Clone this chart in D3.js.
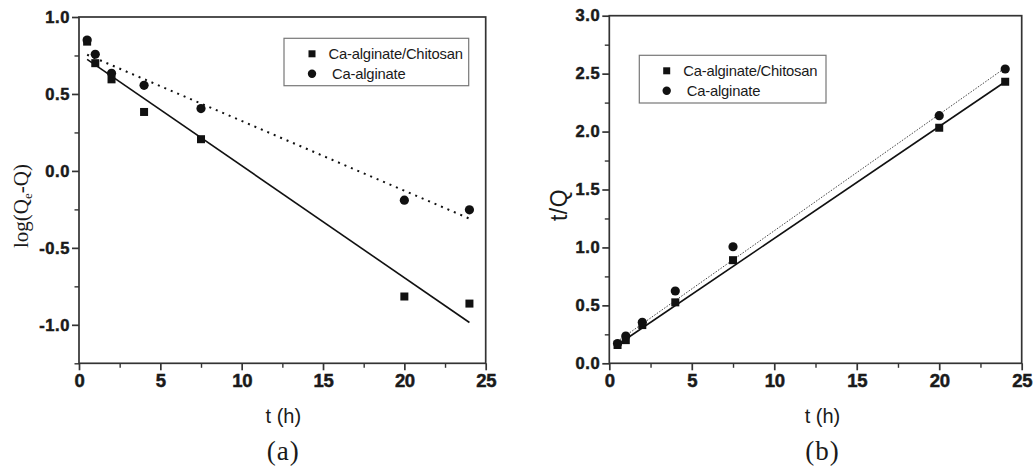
<!DOCTYPE html>
<html>
<head>
<meta charset="utf-8">
<script src="https://cdn.jsdelivr.net/npm/d3@7"></script>
<style>
  body { margin: 0; background: #fff; }
  svg { display: block; }
</style>
</head>
<body>
<div id="chart"></div>
<script>
// sampling times (h)
const times = [0.5, 1, 2, 4, 7.5, 20, 24];

// (a) pseudo-first-order: log(Qe-Q)
const logChitosan = [0.84, 0.70, 0.595, 0.383, 0.206, -0.816, -0.862];
const logAlginate = [0.85, 0.758, 0.634, 0.556, 0.405, -0.19, -0.253];
const fitLogChitosan = [[0.5, 0.725], [24, -0.985]];
const fitLogAlginate = [[0.5, 0.755], [24, -0.31]];

// (b) pseudo-second-order: t/Q
const tqChitosan = [0.158, 0.20, 0.33, 0.526, 0.89, 2.033, 2.43];
const tqAlginate = [0.17, 0.235, 0.354, 0.624, 1.006, 2.137, 2.54];
const fitTqChitosan = [[0.5, 0.16], [24, 2.43]];
const fitTqAlginate = [[0.5, 0.19], [24, 2.55]];

const seriesNames = ["Ca-alginate/Chitosan", "Ca-alginate"];
const xTicks = [0, 5, 10, 15, 20, 25];
const yTicksA = [-1.0, -0.5, 0.0, 0.5, 1.0];
const yTicksB = [0.0, 0.5, 1.0, 1.5, 2.0, 2.5, 3.0];

const SANS = "'Liberation Sans', Arial, sans-serif";
const SERIF = "'Liberation Serif', 'Times New Roman', serif";

const svg = d3.select("#chart").append("svg")
  .attr("width", 1034)
  .attr("height", 468);

const ink = "#1a1a1a";

function drawPanel(p) {
  const x = d3.scaleLinear().domain([0, 25]).range([p.left, p.right]);
  const y = d3.scaleLinear().domain(p.yDomain).range([p.bottom, p.top]);
  const g = svg.append("g");

  // frame
  g.append("rect")
    .attr("x", p.left).attr("y", p.top)
    .attr("width", p.right - p.left).attr("height", p.bottom - p.top)
    .attr("fill", "none").attr("stroke", "#333").attr("stroke-width", 1.7);

  // minor ticks
  g.append("g")
    .attr("transform", `translate(0,${p.bottom})`)
    .call(d3.axisBottom(x).tickValues(d3.range(2.5, 25, 5)).tickSize(4.5).tickFormat(""))
    .call(a => a.select(".domain").remove())
    .selectAll("line").attr("stroke", "#333").attr("stroke-width", 1.4);
  g.append("g")
    .attr("transform", `translate(${p.left},0)`)
    .call(d3.axisLeft(y).tickValues(p.yMinor).tickSize(4.5).tickFormat(""))
    .call(a => a.select(".domain").remove())
    .selectAll("line").attr("stroke", "#333").attr("stroke-width", 1.4);

  // major ticks + labels
  const xa = g.append("g")
    .attr("transform", `translate(0,${p.bottom})`)
    .call(d3.axisBottom(x).tickValues(xTicks).tickSize(7).tickPadding(4).tickFormat(d3.format("d")));
  xa.select(".domain").remove();
  xa.selectAll("line").attr("stroke", "#333").attr("stroke-width", 1.7);
  xa.selectAll("text")
    .attr("fill", ink).attr("stroke", ink).attr("stroke-width", 0.5)
    .attr("font-family", SANS).attr("font-size", 18.5).attr("font-weight", "bold")
    .attr("letter-spacing", "-0.3");

  const ya = g.append("g")
    .attr("transform", `translate(${p.left},0)`)
    .call(d3.axisLeft(y).tickValues(p.yTicks).tickSize(7).tickPadding(2).tickFormat(d3.format(".1f")));
  ya.select(".domain").remove();
  ya.selectAll("line").attr("stroke", "#333").attr("stroke-width", 1.7);
  ya.selectAll("text")
    .attr("fill", ink).attr("stroke", ink).attr("stroke-width", 0.5)
    .attr("font-family", SANS).attr("font-size", 16.5).attr("font-weight", "bold")
    .attr("letter-spacing", "0.6")
    .text(d => d3.format(".1f")(d).replace("−", "-"));

  // fit lines
  const line = d3.line().x(d => x(d[0])).y(d => y(d[1]));
  g.append("path").datum(p.fitSolid).attr("d", line)
    .attr("fill", "none").attr("stroke", "#111").attr("stroke-width", 1.6);
  g.append("path").datum(p.fitDotted).attr("d", line)
    .attr("fill", "none").attr("stroke", p.dotColor)
    .attr("stroke-width", p.dotWidth).attr("stroke-dasharray", p.dotDash);

  // markers
  g.selectAll(".sq").data(times.map((t, i) => [t, p.squares[i]])).enter()
    .append("rect").attr("class", "sq")
    .attr("x", d => x(d[0]) - 4).attr("y", d => y(d[1]) - 4)
    .attr("width", 8).attr("height", 8).attr("fill", "#111");
  g.selectAll(".ci").data(times.map((t, i) => [t, p.circles[i]])).enter()
    .append("circle").attr("class", "ci")
    .attr("cx", d => x(d[0])).attr("cy", d => y(d[1]))
    .attr("r", 4.6).attr("fill", "#111");

  // legend
  const lg = g.append("g");
  lg.append("rect")
    .attr("x", p.legend.x).attr("y", p.legend.y)
    .attr("width", p.legend.w).attr("height", p.legend.h)
    .attr("fill", "#fff").attr("stroke", "#777").attr("stroke-width", 1.2);
  const mx = p.legend.x + p.legend.mark;
  lg.append("rect").attr("x", mx - 3.5).attr("y", p.legend.y + 15.5 - 3.5)
    .attr("width", 7).attr("height", 7).attr("fill", "#111");
  lg.append("circle").attr("cx", mx).attr("cy", p.legend.y + 35.5).attr("r", 4.2).attr("fill", "#111");
  lg.selectAll("text").data(seriesNames).enter().append("text")
    .attr("x", (d, i) => mx + (i === 0 ? 16.5 : 20))
    .attr("y", (d, i) => p.legend.y + 21 + i * 20)
    .attr("fill", ink)
    .attr("font-family", SANS).attr("font-size", 14.8)
    .attr("letter-spacing", "-0.2")
    .text(d => d);

  // axis titles
  const cx = (p.left + p.right) / 2 + p.titleShift;
  g.append("text")
    .attr("x", cx).attr("y", 423)
    .attr("text-anchor", "middle").attr("fill", ink)
    .attr("font-family", SANS).attr("font-size", 20)
    .text("t (h)");
  g.append("text")
    .attr("x", cx).attr("y", 460)
    .attr("text-anchor", "middle").attr("fill", ink)
    .attr("font-family", SERIF).attr("font-size", 27)
    .attr("letter-spacing", "1")
    .text(p.caption);

  p.yTitle(g);
}

drawPanel({
  left: 79, right: 485.7, top: 17, bottom: 363.3,
  yDomain: [-1.25, 1.0],
  yTicks: yTicksA,
  yMinor: [-1.25, -0.75, -0.25, 0.25, 0.75],
  squares: logChitosan, circles: logAlginate,
  fitSolid: fitLogChitosan, fitDotted: fitLogAlginate,
  dotColor: "#111", dotWidth: 2, dotDash: "2,5",
  legend: { x: 284, y: 38.3, w: 184.7, h: 47.4, mark: 28 },
  caption: "(a)",
  titleShift: 1,
  yTitle: g => {
    const t = g.append("text")
      .attr("transform", "translate(28,206) rotate(-90)")
      .attr("text-anchor", "middle").attr("fill", ink)
      .attr("font-family", SERIF).attr("font-size", 21);
    t.append("tspan").text("log(Q");
    t.append("tspan").attr("dy", 4).attr("font-size", 13).text("e");
    t.append("tspan").attr("dy", -4).text("-Q)");
  }
});

drawPanel({
  left: 609.3, right: 1021.7, top: 15.7, bottom: 363.3,
  yDomain: [0, 3.0],
  yTicks: yTicksB,
  yMinor: [0.25, 0.75, 1.25, 1.75, 2.25, 2.75],
  squares: tqChitosan, circles: tqAlginate,
  fitSolid: fitTqChitosan, fitDotted: fitTqAlginate,
  dotColor: "#444", dotWidth: 1, dotDash: "1.5,1.5",
  legend: { x: 639.3, y: 55.3, w: 186.7, h: 47.7, mark: 27.4 },
  caption: "(b)",
  titleShift: 7,
  yTitle: g => {
    g.append("text")
      .attr("transform", "translate(567,205) rotate(-90)")
      .attr("text-anchor", "middle").attr("fill", ink)
      .attr("font-family", SANS).attr("font-size", 23)
      .attr("letter-spacing", "0.5")
      .text("t/Q");
  }
});
</script>
</body>
</html>
